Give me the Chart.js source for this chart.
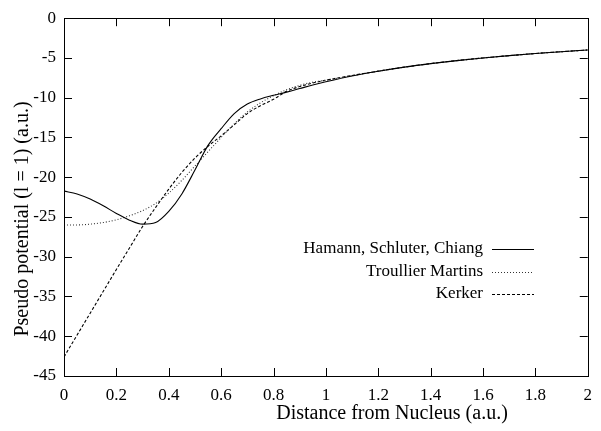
<!DOCTYPE html>
<html>
<head>
<meta charset="utf-8">
<script src="https://cdn.jsdelivr.net/npm/chart.js@4"></script>
<style>
  html, body { margin: 0; padding: 0; background: #fff; }
  #wrap { width: 601px; height: 431px; }
</style>
</head>
<body>
<div id="wrap"><canvas id="pseudo"></canvas></div>
<script>
// distance from nucleus (a.u.)
let distances = [0, 0.05, 0.1, 0.15, 0.2, 0.25, 0.3, 0.35, 0.4, 0.45, 0.5, 0.55, 0.6, 0.65, 0.7, 0.75, 0.8, 0.85, 0.9, 0.95, 1.0,
  1.1, 1.2, 1.3, 1.4, 1.5, 1.6, 1.7, 1.8, 1.9, 2.0];

// pseudo potential values
let hscValues = [-21.75, -22.1, -22.75, -23.6, -24.55, -25.4, -25.9, -25.7, -24.3, -22.1, -19.1, -16.0, -13.9, -12.0, -10.8, -10.15, -9.7, -9.3, -8.85, -8.4, -8.0,
  -7.27, -6.67, -6.15, -5.71, -5.33, -5.0, -4.71, -4.44, -4.21, -4.0];
let tmValues = [-26.0, -26.0, -25.9, -25.7, -25.35, -24.85, -24.2, -23.3, -22.0, -20.4, -18.6, -16.8, -15.0, -13.3, -11.8, -10.65, -9.75, -9.0, -8.45, -8.05, -7.8,
  -7.22, -6.67, -6.15, -5.71, -5.33, -5.0, -4.71, -4.44, -4.21, -4.0];
let kerkerValues = [-42.6, -39.85, -37.1, -34.35, -31.6, -28.9, -26.2, -23.8, -21.5, -19.4, -17.6, -16.1, -14.8, -13.4, -12.0, -11.0, -10.2, -9.2, -8.6, -8.15, -7.8,
  -7.2, -6.66, -6.15, -5.71, -5.33, -5.0, -4.71, -4.44, -4.21, -4.0];

let seriesNames = ["Hamann, Schluter, Chiang", "Troullier Martins", "Kerker"];
let seriesDashes = [[], [1, 2], [3, 2]];

let xTicks = [0, 0.2, 0.4, 0.6, 0.8, 1, 1.2, 1.4, 1.6, 1.8, 2];
let yTicks = [0, -5, -10, -15, -20, -25, -30, -35, -40, -45];

let xTitle = "Distance from Nucleus (a.u.)";
let yTitle = "Pseudo potential (l = 1) (a.u.)";

const serif = "'Liberation Serif', 'DejaVu Serif', 'Times New Roman', serif";

const toPoints = (values) => values.map((v, i) => ({ x: distances[i], y: v }));

// gnuplot style frame with inward ticks on all sides, plus key and labels
const framePlugin = {
  id: "frame",
  afterDatasetsDraw(chart) {
    let ctx = chart.ctx;
    let area = chart.chartArea;
    let xs = chart.scales.x;
    let ys = chart.scales.y;
    let tick = 8;
    ctx.save();
    ctx.strokeStyle = "#000";
    ctx.lineWidth = 1;
    ctx.setLineDash([]);
    ctx.beginPath();
    xTicks.forEach((t) => {
      let px = Math.round(xs.getPixelForValue(t)) + 0.5;
      ctx.moveTo(px, area.bottom);
      ctx.lineTo(px, area.bottom - tick);
      ctx.moveTo(px, area.top);
      ctx.lineTo(px, area.top + tick);
    });
    yTicks.forEach((t) => {
      let py = Math.round(ys.getPixelForValue(t)) + 0.5;
      ctx.moveTo(area.left, py);
      ctx.lineTo(area.left + tick, py);
      ctx.moveTo(area.right, py);
      ctx.lineTo(area.right - tick, py);
    });
    ctx.stroke();
    ctx.strokeRect(Math.round(area.left) + 0.5, Math.round(area.top) + 0.5,
      Math.round(area.right - area.left), Math.round(area.bottom - area.top));

    // key: text on the left, line sample on the right
    ctx.font = "17px " + serif;
    ctx.textAlign = "right";
    ctx.textBaseline = "middle";
    ctx.fillStyle = "#000";
    chart.data.datasets.forEach((ds, i) => {
      let y = 249 + i * 22.5;
      ctx.fillText(ds.label, 483, y);
      ctx.beginPath();
      ctx.setLineDash(ds.borderDash || []);
      ctx.strokeStyle = ds.borderColor;
      ctx.lineWidth = ds.borderWidth;
      ctx.moveTo(492, Math.round(y) + 0.5);
      ctx.lineTo(534, Math.round(y) + 0.5);
      ctx.stroke();
    });

    // axis labels
    ctx.setLineDash([]);
    ctx.font = "20px " + serif;
    ctx.textAlign = "center";
    ctx.textBaseline = "alphabetic";
    ctx.fillText(xTitle, 392, 419);
    ctx.translate(28, 219);
    ctx.rotate(-Math.PI / 2);
    ctx.fillText(yTitle, 0, 0);
    ctx.restore();
  },
};

const allValues = [hscValues, tmValues, kerkerValues];
const colors = ["#000", "#333", "#000"];

const chartContainer = document.getElementById("pseudo").getContext("2d");
const pseudoChart = new Chart(chartContainer, {
  type: "line",
  data: {
    datasets: seriesNames.map((name, i) => ({
      label: name,
      data: toPoints(allValues[i]),
      borderColor: colors[i],
      borderWidth: 1.1,
      borderDash: seriesDashes[i],
      pointRadius: 0,
      fill: false,
      cubicInterpolationMode: "monotone",
    })),
  },
  options: {
    responsive: true,
    maintainAspectRatio: false,
    animation: false,
    layout: { padding: { top: 6, right: 12, left: 0, bottom: 0 } },
    plugins: {
      legend: { display: false },
      tooltip: { enabled: false },
    },
    scales: {
      x: {
        type: "linear",
        min: 0,
        max: 2,
        afterBuildTicks: (scale) => {
          scale.ticks = xTicks.map((v) => ({ value: v }));
        },
        afterFit: (scale) => {
          scale.height = 55;
        },
        grid: { display: false, drawTicks: false },
        border: { display: false },
        ticks: {
          color: "#000",
          padding: 9,
          maxRotation: 0,
          font: { family: serif, size: 17 },
          callback: (v) => String(Math.round(v * 10) / 10),
        },
      },
      y: {
        type: "linear",
        min: -45,
        max: 0,
        afterBuildTicks: (scale) => {
          scale.ticks = yTicks.map((v) => ({ value: v }));
        },
        afterFit: (scale) => {
          scale.width = 64;
        },
        grid: { display: false, drawTicks: false },
        border: { display: false },
        ticks: {
          color: "#000",
          padding: 8,
          font: { family: serif, size: 17 },
          callback: (v) => String(v),
        },
      },
    },
  },
  plugins: [framePlugin],
});
</script>
</body>
</html>
